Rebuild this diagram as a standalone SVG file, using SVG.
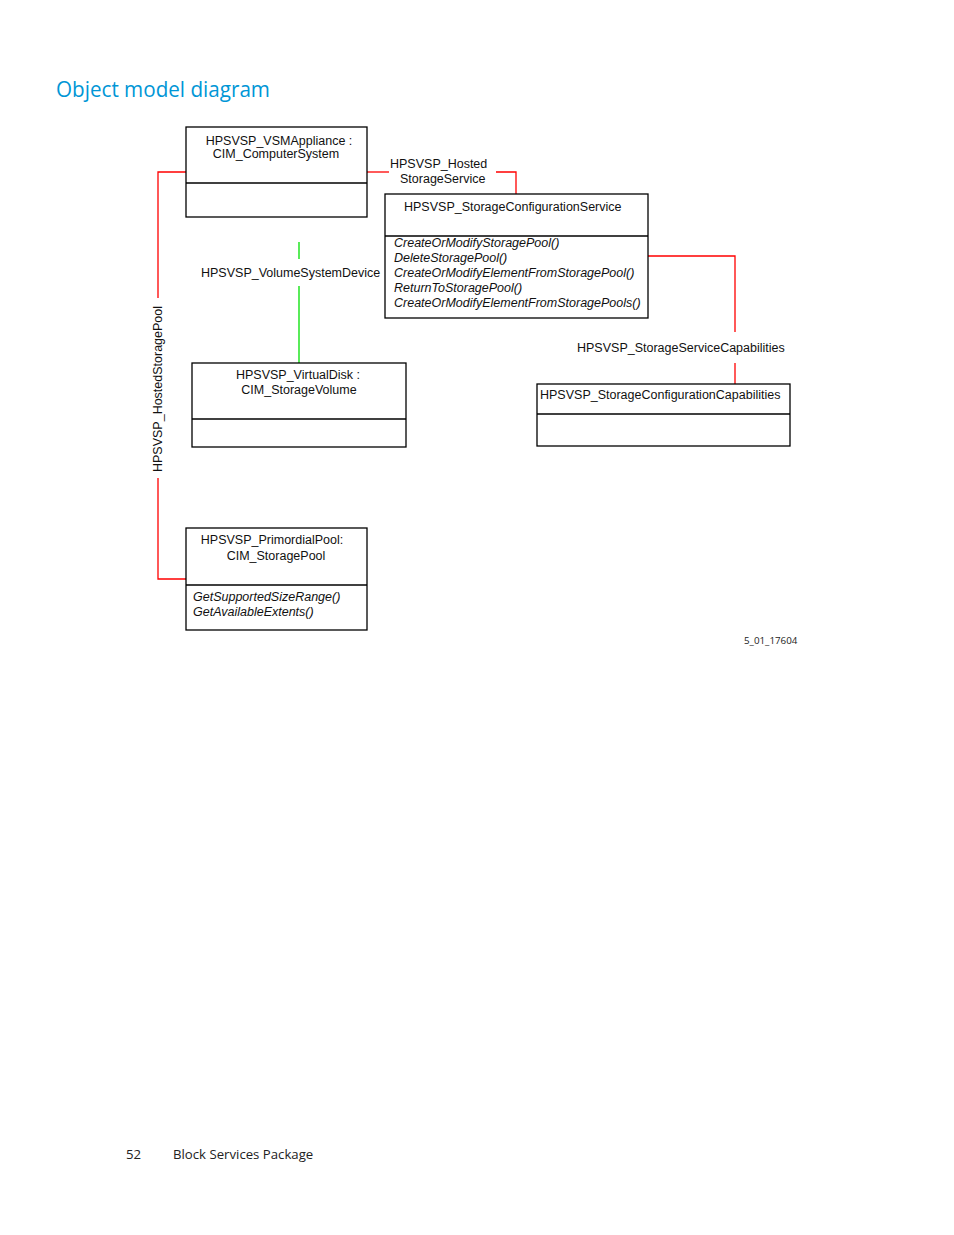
<svg xmlns="http://www.w3.org/2000/svg" width="954" height="1235" viewBox="0 0 954 1235">
<style>
.box{fill:#fff;stroke:#000;stroke-width:1.3}
.div{stroke:#000;stroke-width:1.3}
.t{font-family:"Liberation Sans",Arial,sans-serif;font-size:12.5px;fill:#111}
.i{font-style:italic}
.red{fill:none;stroke:#ff0000;stroke-width:1.3}
.grn{fill:none;stroke:#00e000;stroke-width:1.3}
.title{font-family:"Open Sans","Liberation Sans",sans-serif;font-size:21px;fill:#0096d6}
.foot{font-family:"Open Sans","Liberation Sans",sans-serif;font-size:13.2px;fill:#222}
</style>
<rect width="954" height="1235" fill="#fff"/>
<text class="title" x="56" y="97" textLength="214" lengthAdjust="spacingAndGlyphs">Object model diagram</text>

<g id="connectors">
  <polyline class="red" points="186,172 158,172 158,298"/>
  <polyline class="red" points="158,478 158,579 186,579"/>
  <text class="t" transform="translate(162,389) rotate(-90)" text-anchor="middle">HPSVSP_HostedStoragePool</text>
  <polyline class="red" points="367,172 389,172"/>
  <polyline class="red" points="496,172 516,172 516,194"/>
  <text class="t" x="390" y="168">HPSVSP_Hosted</text>
  <text class="t" x="400" y="183">StorageService</text>
  <polyline class="red" points="648,256 735,256 735,332"/>
  <polyline class="red" points="735,363 735,384"/>
  <text class="t" x="577" y="352">HPSVSP_StorageServiceCapabilities</text>
  <line class="grn" x1="299" y1="242" x2="299" y2="259"/>
  <line class="grn" x1="299" y1="286" x2="299" y2="363"/>
  <text class="t" x="201" y="277">HPSVSP_VolumeSystemDevice</text>
</g>

<g id="vsmappliance">
  <rect class="box" x="186" y="127" width="181" height="90"/>
  <line class="div" x1="186" y1="183" x2="367" y2="183"/>
  <text class="t" x="279" y="145" text-anchor="middle">HPSVSP_VSMAppliance :</text>
  <text class="t" x="276" y="158" text-anchor="middle">CIM_ComputerSystem</text>
</g>

<g id="storageconfigservice">
  <rect class="box" x="385" y="194" width="263" height="124"/>
  <line class="div" x1="385" y1="236" x2="648" y2="236"/>
  <text class="t" x="404" y="211">HPSVSP_StorageConfigurationService</text>
  <text class="t i" x="394" y="247">CreateOrModifyStoragePool()</text>
  <text class="t i" x="394" y="262">DeleteStoragePool()</text>
  <text class="t i" x="394" y="277">CreateOrModifyElementFromStoragePool()</text>
  <text class="t i" x="394" y="292">ReturnToStoragePool()</text>
  <text class="t i" x="394" y="307">CreateOrModifyElementFromStoragePools()</text>
</g>

<g id="virtualdisk">
  <rect class="box" x="192" y="363" width="214" height="84"/>
  <line class="div" x1="192" y1="419" x2="406" y2="419"/>
  <text class="t" x="298" y="379" text-anchor="middle">HPSVSP_VirtualDisk :</text>
  <text class="t" x="299" y="394" text-anchor="middle">CIM_StorageVolume</text>
</g>

<g id="storageconfigcapabilities">
  <rect class="box" x="537" y="384" width="253" height="62"/>
  <line class="div" x1="537" y1="414" x2="790" y2="414"/>
  <text class="t" x="540" y="399">HPSVSP_StorageConfigurationCapabilities</text>
</g>

<g id="primordialpool">
  <rect class="box" x="186" y="528" width="181" height="102"/>
  <line class="div" x1="186" y1="585" x2="367" y2="585"/>
  <text class="t" x="272" y="544" text-anchor="middle">HPSVSP_PrimordialPool:</text>
  <text class="t" x="276" y="560" text-anchor="middle">CIM_StoragePool</text>
  <text class="t i" x="193" y="601">GetSupportedSizeRange()</text>
  <text class="t i" x="193" y="616">GetAvailableExtents()</text>
</g>

<text x="744" y="644" style="font-family:'Open Sans','Liberation Sans',sans-serif;font-size:9.8px;fill:#222">5_01_17604</text>
<text class="foot" x="126" y="1159">52</text>
<text class="foot" x="173" y="1159">Block Services Package</text>
</svg>
